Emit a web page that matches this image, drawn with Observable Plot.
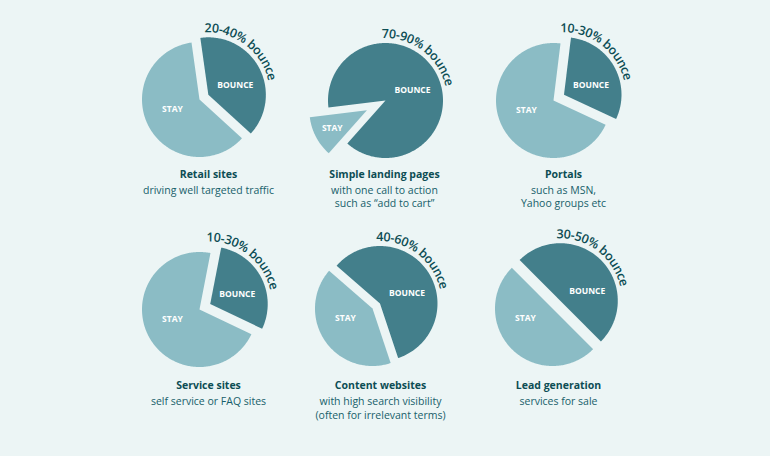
<!DOCTYPE html>
<html><head><meta charset="utf-8">
<script src="https://cdn.jsdelivr.net/npm/d3@7"></script>
<script src="https://cdn.jsdelivr.net/npm/@observablehq/plot@0.6"></script>
<style>
html,body{margin:0;padding:0;background:#ecf5f5;}
#chart svg{display:block;background:#ecf5f5;}
</style></head><body><div id="chart"></div>
<script>
// ---- data ----
const titles = ["Retail sites", "Simple landing pages", "Portals", "Service sites", "Content websites", "Lead generation"];
const subtitles = ["driving well targeted traffic", "with one call to action\nsuch as “add to cart”", "such as MSN,\nYahoo groups etc", "self service or FAQ sites", "with high search visibility\n(often for irrelevant terms)", "services for sale"];
const bounceRanges = ["20-40% bounce", "70-90% bounce", "10-30% bounce", "10-30% bounce", "40-60% bounce", "30-50% bounce"];
const bounceShare = [0.39, 0.885, 0.30, 0.29, 0.585, 0.50];
const sliceNames = ["BOUNCE", "STAY"];

// ---- layout / style ----
const W = 770, H = 456, R = 57.5;
const bounceStart = [-8, -97, 7, 11, -49, -45];   // rotation of the bounce slice (deg, clockwise from 12 o'clock)
const bounceExplode = [10, 0, 12, 12, 9, 11];
const stayExplode = [0, 21, 0, 0, 0, 0];
const pieX = [199, 385, 553, 199, 372, 552];
const pieY = [99, 100, 100, 309, 308, 308];
const capX = [208, 384, 563, 208, 380, 558];
const capY = [170, 170, 170, 381.5, 381.5, 381.5];
const DARK = "#437f8b", LIGHT = "#8bbcc5", TXT = "#0c4d54", SUB = "#17606a";
const FONT = "'Open Sans', sans-serif";

const rad = d => d * Math.PI / 180;
const polyRows = [], labelRows = [], arcs = [];
titles.forEach((t, i) => {
  const a0 = bounceStart[i], aB = a0 + bounceShare[i] * 360, a1 = a0 + 360;
  const slices = [
    {name: sliceNames[0], from: a0, to: aB, e: bounceExplode[i]},
    {name: sliceNames[1], from: aB, to: a1, e: stayExplode[i]}
  ];
  slices.forEach(s => {
    const mid = (s.from + s.to) / 2;
    const ox = pieX[i] + s.e * Math.sin(rad(mid)), oy = pieY[i] - s.e * Math.cos(rad(mid));
    const key = i + "-" + s.name;
    polyRows.push({key, name: s.name, x: ox, y: oy});
    const n = Math.max(2, Math.ceil(s.to - s.from));
    for (let k = 0; k <= n; k++) {
      const a = s.from + (s.to - s.from) * k / n;
      polyRows.push({key, name: s.name, x: ox + R * Math.sin(rad(a)), y: oy - R * Math.cos(rad(a))});
    }
    polyRows.push({key, name: s.name, x: ox, y: oy});
    const share = (s.to - s.from) / 360;
    let la, lr;
    if (share < 0.2) { la = mid; lr = 0.68 * R; }
    else { la = s.name === "BOUNCE" ? 70 : 250; lr = 0.5 * R; }
    labelRows.push({text: s.name, x: ox + lr * Math.sin(rad(la)), y: oy - lr * Math.cos(rad(la))});
    if (s.name === "BOUNCE") arcs.push({cx: ox, cy: oy, text: bounceRanges[i]});
  });
});
const capRows = titles.map((t, i) => ({title: t, sub: subtitles[i], x: capX[i], y: capY[i]}));

function arcText(index, scales) {
  const g = d3.create("svg:g");
  const defs = g.append("defs");
  arcs.forEach((a, i) => {
    const rr = R + 4.5, s = rad(-3), e = rad(130);
    const cx = scales.x(a.cx), cy = scales.y(a.cy);
    const rpx = Math.abs(scales.x(a.cx + rr) - cx);
    const p = `M${cx + rpx * Math.sin(s)},${cy - rpx * Math.cos(s)} A${rpx},${rpx} 0 0 1 ${cx + rpx * Math.sin(e)},${cy - rpx * Math.cos(e)}`;
    defs.append("path").attr("id", "arc" + i).attr("d", p).attr("fill", "none");
    g.append("text")
      .attr("text-anchor", "start")
      .attr("font-family", FONT).attr("font-size", 12.5).attr("font-weight", 600)
      .attr("letter-spacing", -0.35).attr("fill", TXT)
      .append("textPath").attr("href", "#arc" + i).attr("startOffset", 0).text(a.text);
  });
  return g.node();
}

const plot = Plot.plot({
  width: W, height: H, margin: 0,
  x: {domain: [0, W], range: [0, W], axis: null},
  y: {domain: [0, H], range: [0, H], axis: null},
  style: {background: "#ecf5f5", fontFamily: FONT},
  marks: [
    Plot.line(polyRows.filter(d => d.name === "STAY"), {x: "x", y: "y", z: "key", fill: LIGHT, stroke: "none", curve: "linear"}),
    Plot.line(polyRows.filter(d => d.name === "BOUNCE"), {x: "x", y: "y", z: "key", fill: DARK, stroke: "none", curve: "linear"}),
    Plot.text(labelRows, {x: "x", y: "y", text: "text", fill: "white", fontSize: 8.5, fontWeight: 700}),
    Plot.text(capRows, {x: "x", y: "y", text: "title", fill: TXT, fontSize: 10.5, fontWeight: 700, lineAnchor: "top"}),
    Plot.text(capRows, {x: "x", y: d => d.y + 13.5, text: "sub", fill: SUB, fontSize: 10.5, lineHeight: 1.29, lineAnchor: "top"}),
    arcText
  ]
});
document.getElementById("chart").appendChild(plot);
</script>
</body></html>
